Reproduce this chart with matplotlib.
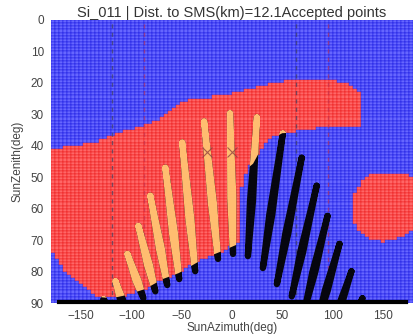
import matplotlib
matplotlib.use("Agg")
import matplotlib.pyplot as plt
import numpy as np
from matplotlib.path import Path
from matplotlib.patches import Polygon

plt.rcParams['font.family'] = ['Liberation Sans', 'DejaVu Sans']

# sky map cells (azimuth x zenith)
az_edges = np.arange(-180, 181, 4)
zen_edges = np.arange(0, 91, 1)

# obstructed (red) areas, outlines (azimuth, zenith)
red_main = [(-180, 41), (-135, 39), (-102, 35), (-69, 31), (-49, 25.6), (-30, 25),
            (0, 23.5), (30, 21), (60, 19), (90, 19), (115, 20), (127, 23),
            (127, 33.5), (84, 34.5), (60, 35.8), (50, 36), (38, 38), (28, 41.5),
            (21, 45.7), (16, 47), (10, 53), (8, 61), (8, 71), (-10, 73.5),
            (-27, 75.7), (-53, 80.5), (-69, 82.4), (-86, 85.5), (-105, 87.5),
            (-120, 88.5), (-135, 88), (-148, 85), (-165, 80), (-180, 73.5)]
red_east = [(119, 60), (122, 55), (130, 51), (140, 49), (155, 48.5), (170, 49),
            (181, 50), (181, 67), (165, 69.5), (150, 70.5), (140, 70),
            (128, 68), (121, 65)]

# sun paths (analemma per hour): top, left, bottom, right
sun_paths = [
    [(-127.7, 88.8), (-122.1, 93.0), (-115.8, 95.8), (-119.1, 93.0)],
    [(-115.8, 83.1), (-111.4, 88.9), (-105.9, 92.7), (-108.4, 88.9)],
    [(-104.0, 74.4), (-96.0, 82.9), (-88.1, 88.5), (-93.0, 82.9)],
    [(-93.1, 65.5), (-84.5, 78.0), (-76.2, 86.3), (-81.5, 78.0)],
    [(-81.2, 55.9), (-72.6, 72.9), (-64.4, 84.3), (-69.6, 72.9)],
    [(-66.3, 47.0), (-59.5, 68.2), (-52.5, 82.4), (-56.5, 68.2)],
    [(-49.5, 39.0), (-43.3, 63.5), (-36.6, 79.9), (-40.3, 63.5)],
    [(-27.7, 32.3), (-20.9, 58.5), (-13.9, 76.0), (-17.9, 58.5)],
    [(-2.0, 29.7), (-1.7, 56.5), (1.0, 74.4), (1.3, 56.5)],
    [(24.8, 31.0), (17.9, 57.5), (15.8, 75.1), (20.9, 57.5)],
    [(50.5, 36.1), (37.1, 61.8), (30.7, 78.9), (40.1, 61.8)],
    [(69.3, 43.8), (53.0, 67.9), (44.6, 84.0), (56.0, 67.9)],
    [(84.2, 52.7), (67.8, 73.8), (59.4, 87.9), (70.8, 73.8)],
    [(95.0, 62.3), (79.9, 80.1), (72.3, 92.0), (82.9, 80.1)],
    [(106.9, 71.2), (92.3, 86.0), (85.1, 95.8), (95.3, 86.0)],
    [(118.8, 79.9), (105.4, 91.4), (99.0, 99.0), (108.4, 91.4)],
    [(129.7, 88.5), (117.5, 96.6), (111.9, 102.0), (120.5, 96.6)],
]

dark_lines = [-119, 64]
red_lines = [-88, 95]
marks_az = [-25, 0]
marks_zen = [42, 42]
horizon_az = [-172, 173]
horizon_zen = [89.6, 89.6]

fig = plt.figure(figsize=(4.13, 3.34), dpi=100)
ax = fig.add_axes([51 / 413, 1 - 303 / 334, 362 / 413, 283 / 334])

# colour each cell by whether its centre is in a red area
ac = (az_edges[:-1] + az_edges[1:]) / 2
zc = (zen_edges[:-1] + zen_edges[1:]) / 2
AC, ZC = np.meshgrid(ac, zc)
pts = np.column_stack([AC.ravel(), ZC.ravel()])
inside = Path(red_main).contains_points(pts) | Path(red_east).contains_points(pts)
faces = np.where(inside[:, None], np.array([1.0, 0.4, 0.4]), np.array([0.4, 0.4, 1.0]))
edges = np.where(inside[:, None], np.array([0.9, 0.0, 0.0, 0.8]), np.array([0.0, 0.0, 0.85, 0.8]))
mesh = ax.pcolormesh(az_edges, zen_edges, np.zeros(AC.shape), linewidth=0.3,
                     antialiased=True)
mesh.set_array(None)
mesh.set_facecolor(faces)
mesh.set_edgecolor(edges)

for x in dark_lines:
    ax.axvline(x, color='#404060', lw=1, ls=(0, (3, 3)), alpha=0.7)
for x in red_lines:
    ax.axvline(x, color='#c03050', lw=1, ls=(0, (3, 3)), alpha=0.6)

clip = Polygon(red_main, closed=True, transform=ax.transData)
for p in sun_paths:
    xs = [q[0] for q in p] + [p[0][0]]
    ys = [q[1] for q in p] + [p[0][1]]
    ax.plot(xs, ys, color='#06060f', lw=4.5, solid_joinstyle='round',
            solid_capstyle='round')
    ln, = ax.plot(xs, ys, color='#ffbd70', lw=4.5, solid_joinstyle='round',
                  solid_capstyle='round')
    ln.set_clip_path(clip)

ax.plot(marks_az, marks_zen, 'x', color='#904040', ms=7, mew=0.8, alpha=0.8)
ax.plot(horizon_az, horizon_zen, color='black', lw=3, clip_on=False)

ax.set_xlim(-180, 180)
ax.set_ylim(90, 0)
ax.set_xticks([-150, -100, -50, 0, 50, 100, 150])
ax.set_yticks(range(0, 91, 10))
ax.tick_params(length=0, labelsize=8.5, colors='#444444', pad=5)
for s in ax.spines.values():
    s.set_visible(False)
ax.set_xlabel('SunAzimuth(deg)', fontsize=8.5, color='#444444', labelpad=0)
ax.set_ylabel('SunZenith(deg)', fontsize=8.5, color='#444444', labelpad=5)
ax.set_title('Si_011 | Dist. to SMS(km)=12.1Accepted points', fontsize=10.5,
             color='#333333', pad=2)

fig.savefig('out.png', dpi=100)
